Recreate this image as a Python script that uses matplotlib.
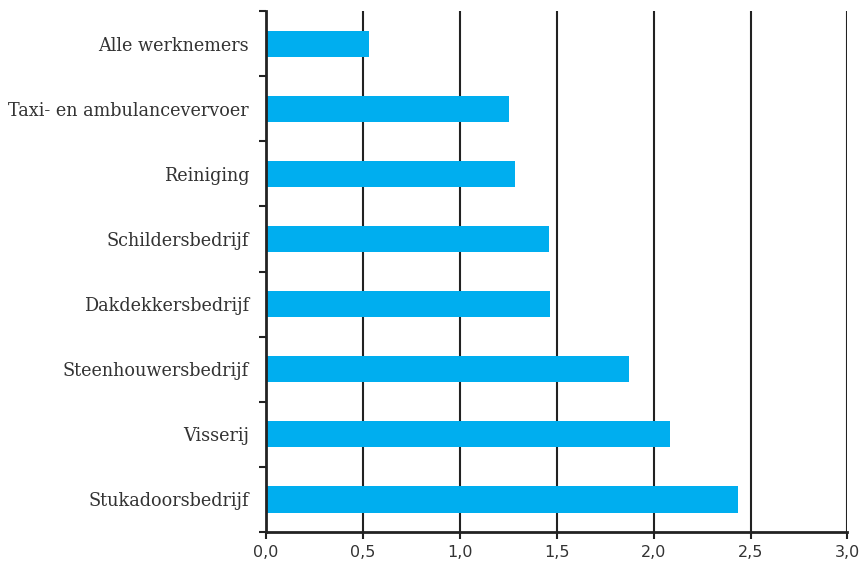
import numpy as np
import matplotlib
matplotlib.use('Agg')
import matplotlib.pyplot as plt
from matplotlib.ticker import FixedLocator, FuncFormatter

# data, read top to bottom
categories = ['Alle werknemers', 'Taxi- en ambulancevervoer', 'Reiniging', 'Schildersbedrijf',
              'Dakdekkersbedrijf', 'Steenhouwersbedrijf', 'Visserij', 'Stukadoorsbedrijf']
values = [0.534, 1.255, 1.287, 1.461, 1.468, 1.871, 2.083, 2.436]
xticks = [0.0, 0.5, 1.0, 1.5, 2.0, 2.5, 3.0]

fig = plt.figure(figsize=(8.61, 5.66), dpi=100)
ax = fig.add_axes([0.3086, 0.060, 0.6757, 0.9206])

y = np.arange(len(categories))
ax.barh(y, values, height=0.4, color='#00aeef', zorder=3)

# vertical grid lines
for x in xticks[1:]:
    ax.axvline(x, color='#222222', lw=1.5, zorder=2)

ax.set_xlim(0, 3.0)
ax.set_ylim(len(categories) - 0.5, -0.5)

ax.set_xticks(xticks)
ax.xaxis.set_major_formatter(FuncFormatter(lambda v, p: '{:.1f}'.format(v).replace('.', ',')))
ax.tick_params(axis='x', length=5, width=1.5, color='#222222', labelsize=11.5,
               labelcolor='#333333', pad=4)
for lab in ax.get_xticklabels():
    lab.set_family('DejaVu Sans')

ax.set_yticks(y)
ax.set_yticklabels(categories, family='DejaVu Serif', fontsize=12.7, color='#333333')
ax.tick_params(axis='y', which='major', length=0, pad=12)
ax.yaxis.set_minor_locator(FixedLocator(np.arange(-0.5, len(categories), 1.0)))
ax.tick_params(axis='y', which='minor', length=5, width=1.5, color='#222222')

for side in ['top', 'right']:
    ax.spines[side].set_visible(False)
for side in ['left', 'bottom']:
    ax.spines[side].set_linewidth(2)
    ax.spines[side].set_color('#222222')
    ax.spines[side].set_zorder(4)

plt.savefig('out.png', dpi=100)
